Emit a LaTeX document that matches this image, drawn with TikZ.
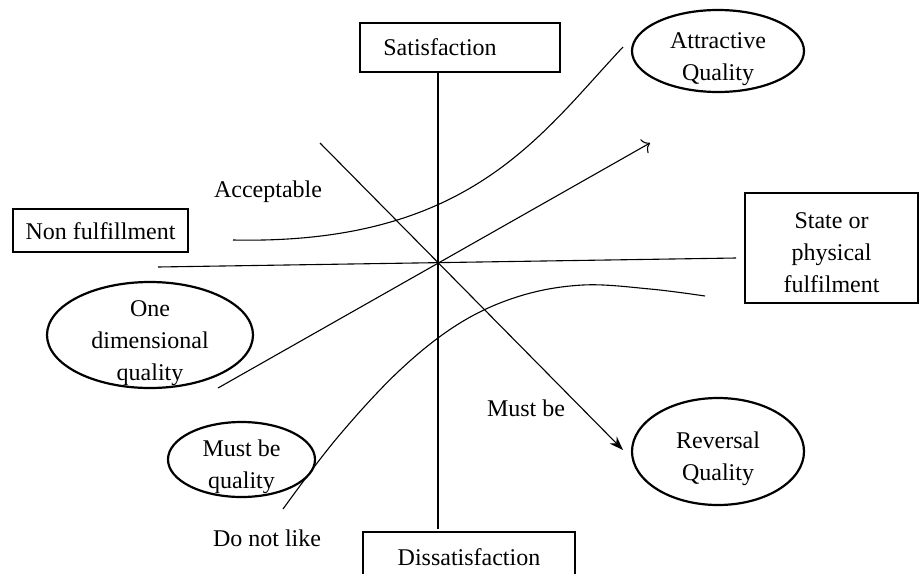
\documentclass[tikz,border=0pt]{standalone}
\usepackage{fontspec}
\setmainfont{Liberation Serif}
\usetikzlibrary{arrows.meta,shapes.geometric}
\newcommand{\lowered}[2]{\raisebox{-#1}[\height][\depth]{\begin{tabular}{@{}c@{}}#2\end{tabular}}}
\newcommand{\ovaltext}[1]{\raisebox{-6.5pt}[0pt][0pt]{\begin{tabular}{@{}c@{}}#1\end{tabular}}}
\begin{document}
\begin{tikzpicture}[x=0.5pt,y=-0.5pt,
  every node/.style={font=\fontsize{12}{16}\selectfont, align=center, inner sep=0pt},
  thinbox/.style={draw, line width=0.6pt},
  thickbox/.style={draw, line width=1.1pt},
  oval/.style={draw, ellipse, line width=1.1pt},
  ln/.style={line width=0.55pt}]
\useasboundingbox (0,0) rectangle (920,573);

% boxes
\node[thickbox, minimum width=100pt, minimum height=24.5pt] (sat) at (460,47.5) {\lowered{1pt}{Satisfaction\hspace*{20pt}}};
\node[thinbox, minimum width=106pt, minimum height=25pt] (dis) at (469,557) {Dissatisfaction};
\node[thinbox, minimum width=87.5pt, minimum height=21.5pt] (nonf) at (100.5,230.5) {\lowered{1.5pt}{Non fulfillment}};
\node[thickbox, minimum width=86.5pt, minimum height=55pt] (state) at (831.5,248) {\lowered{3pt}{State or\\physical\\fulfilment}};

% ellipses
\node[oval, minimum width=86pt, minimum height=41pt] (attr) at (718,51) {\ovaltext{Attractive\\Quality}};
\node[oval, minimum width=103pt, minimum height=53pt] (onedim) at (150,335) {\ovaltext{One\\dimensional\\quality}};
\node[oval, minimum width=73.5pt, minimum height=37.5pt] (mustq) at (241.5,459.5) {\ovaltext{Must be\\quality}};
\node[oval, minimum width=86pt, minimum height=53.5pt] (rev) at (718,451.5) {\ovaltext{Reversal\\Quality}};

% labels
\node (acc) at (268,192) {Acceptable};
\node (mustbe) at (526,408) {Must be};
\node (dnl) at (267,538) {Do not like};

% coordinates
\coordinate (vtop) at (438,72);
\coordinate (vbot) at (438,529);
\coordinate (hl) at (158,267);
\coordinate (hr) at (736,258);
\coordinate (dtop) at (320,143);
\coordinate (dtip) at (623,450);
\coordinate (ostart) at (218,388);
\coordinate (otip) at (650,143);
\coordinate (ustart) at (233,240);
\coordinate (uend) at (623,47);

% axes and lines
\draw[ln] (vtop) -- (vbot);
\draw[ln] (hl) -- (hr);
\draw[ln, -{Stealth[length=7pt,width=5pt]}] (dtop) -- (dtip);
\draw[ln, -{To[length=3.5pt,width=8pt]}] (ostart) -- (otip);

% curves
\draw[ln] (ustart) .. controls (470,245) and (540,135) .. (uend);
\draw[ln] plot[smooth, tension=0.6] coordinates {(283,509) (337,438) (400,370) (460,323) (520,296) (583,285) (650,289) (705,296)};
\end{tikzpicture}
\end{document}
